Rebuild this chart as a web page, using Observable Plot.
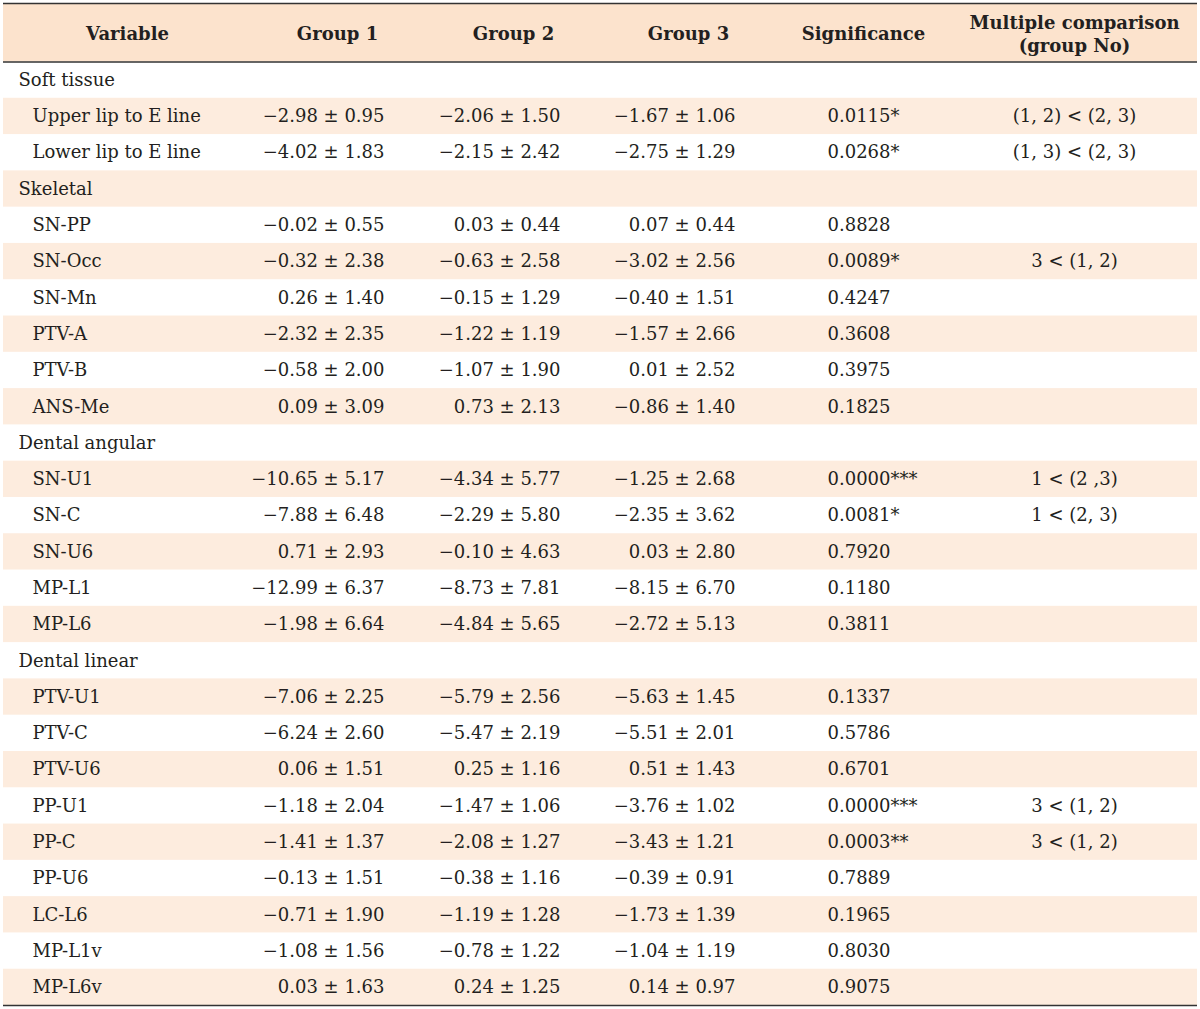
<!DOCTYPE html>
<html><head><meta charset="utf-8">
<script src="https://cdn.jsdelivr.net/npm/d3@7"></script>
<script src="https://cdn.jsdelivr.net/npm/@observablehq/plot@0.6"></script>
<style>body{margin:0;background:#fff} svg{display:block}</style>
</head><body><div id="chart"></div>
<script>
// ---- data ----
const sections = ["Soft tissue", "Skeletal", "Dental angular", "Dental linear"];
const variables = ["Upper lip to E line","Lower lip to E line",
  "SN-PP","SN-Occ","SN-Mn","PTV-A","PTV-B","ANS-Me",
  "SN-U1","SN-C","SN-U6","MP-L1","MP-L6",
  "PTV-U1","PTV-C","PTV-U6","PP-U1","PP-C","PP-U6","LC-L6","MP-L1v","MP-L6v"];
const sectionOf = [0,0, 1,1,1,1,1,1, 2,2,2,2,2, 3,3,3,3,3,3,3,3,3];
const g1Mean = [-2.98,-4.02, -0.02,-0.32,0.26,-2.32,-0.58,0.09, -10.65,-7.88,0.71,-12.99,-1.98, -7.06,-6.24,0.06,-1.18,-1.41,-0.13,-0.71,-1.08,0.03];
const g1SD   = [0.95,1.83, 0.55,2.38,1.40,2.35,2.00,3.09, 5.17,6.48,2.93,6.37,6.64, 2.25,2.60,1.51,2.04,1.37,1.51,1.90,1.56,1.63];
const g2Mean = [-2.06,-2.15, 0.03,-0.63,-0.15,-1.22,-1.07,0.73, -4.34,-2.29,-0.10,-8.73,-4.84, -5.79,-5.47,0.25,-1.47,-2.08,-0.38,-1.19,-0.78,0.24];
const g2SD   = [1.50,2.42, 0.44,2.58,1.29,1.19,1.90,2.13, 5.77,5.80,4.63,7.81,5.65, 2.56,2.19,1.16,1.06,1.27,1.16,1.28,1.22,1.25];
const g3Mean = [-1.67,-2.75, 0.07,-3.02,-0.40,-1.57,0.01,-0.86, -1.25,-2.35,0.03,-8.15,-2.72, -5.63,-5.51,0.51,-3.76,-3.43,-0.39,-1.73,-1.04,0.14];
const g3SD   = [1.06,1.29, 0.44,2.56,1.51,2.66,2.52,1.40, 2.68,3.62,2.80,6.70,5.13, 1.45,2.01,1.43,1.02,1.21,0.91,1.39,1.19,0.97];
const pValue = [0.0115,0.0268, 0.8828,0.0089,0.4247,0.3608,0.3975,0.1825, 0.0000,0.0081,0.7920,0.1180,0.3811, 0.1337,0.5786,0.6701,0.0000,0.0003,0.7889,0.1965,0.8030,0.9075];
const pStars = ["*","*", "","*","","","","", "***","*","","","", "","","","***","**","","","",""];
const multiComp = ["(1, 2) < (2, 3)","(1, 3) < (2, 3)", "","3 < (1, 2)","","","","", "1 < (2 ,3)","1 < (2, 3)","","","", "","","","3 < (1, 2)","3 < (1, 2)","","","",""];
const headers = ["Variable","Group 1","Group 2","Group 3","Significance","Multiple comparison\n(group No)"];

// ---- layout / style ----
const W = 1200, Hpx = 1009;
const headerUnits = 1.612;          // header height in row units
const tableLeft = 3, tableRight = 1197;
const colAnchor = {g1: 384, g2: 560, g3: 735, sig: 827, mc: 1074};
const headerX = [127, 337, 513, 688, 863, 1074];
const sectionX = 18, itemX = 32;
const font = "'DejaVu Serif', serif";
const peachHead = "#fce3cd", peachRow = "#fdecde", lineColor = "#333";

const fmt = (m, s) => (m < 0 ? "\u2212" : "") + Math.abs(m).toFixed(2) + " \u00b1 " + s.toFixed(2);

// build rows
const rows = [];
sections.forEach((sec, si) => {
  rows.push({type: "section", label: sec});
  variables.forEach((v, vi) => {
    if (sectionOf[vi] !== si) return;
    rows.push({type: "item", label: v,
      g1: fmt(g1Mean[vi], g1SD[vi]), g2: fmt(g2Mean[vi], g2SD[vi]), g3: fmt(g3Mean[vi], g3SD[vi]),
      sig: pValue[vi].toFixed(4) + pStars[vi], mc: multiComp[vi]});
  });
});
rows.forEach((r, i) => r.i = i);
const nRows = rows.length;
const items = rows.filter(r => r.type === "item");
const secRows = rows.filter(r => r.type === "section");
const shaded = rows.filter(r => r.i % 2 === 1);
const headerData = headers.map((h, k) => ({h, x: headerX[k]}));

const txt = {fontFamily: font, fontSize: 18, fill: "#231f20"};

const plot = Plot.plot({
  width: W, height: Hpx, margin: 0,
  x: {domain: [0, W], range: [0, W], axis: null},
  y: {domain: [-headerUnits, nRows], range: [3, 1005], axis: null},
  style: {background: "#fff"},
  marks: [
    Plot.rect([0], {x1: () => tableLeft, x2: () => tableRight, y1: () => -headerUnits, y2: () => 0, fill: peachHead}),
    Plot.rect(shaded, {x1: () => tableLeft, x2: () => tableRight, y1: d => d.i, y2: d => d.i + 1, fill: peachRow}),
    Plot.ruleY([-headerUnits, 0, nRows], {x1: tableLeft, x2: tableRight, stroke: lineColor, strokeWidth: 1.6}),
    Plot.text(headerData, {x: "x", y: () => -headerUnits / 2, text: "h", ...txt, fontWeight: "bold", lineHeight: 1.28}),
    Plot.text(secRows, {x: () => sectionX, y: d => d.i + 0.5, text: "label", textAnchor: "start", ...txt}),
    Plot.text(items, {x: () => itemX, y: d => d.i + 0.5, text: "label", textAnchor: "start", ...txt}),
    Plot.text(items, {x: () => colAnchor.g1, y: d => d.i + 0.5, text: "g1", textAnchor: "end", ...txt}),
    Plot.text(items, {x: () => colAnchor.g2, y: d => d.i + 0.5, text: "g2", textAnchor: "end", ...txt}),
    Plot.text(items, {x: () => colAnchor.g3, y: d => d.i + 0.5, text: "g3", textAnchor: "end", ...txt}),
    Plot.text(items, {x: () => colAnchor.sig, y: d => d.i + 0.5, text: "sig", textAnchor: "start", ...txt}),
    Plot.text(items, {x: () => colAnchor.mc, y: d => d.i + 0.5, text: "mc", textAnchor: "middle", ...txt})
  ]
});
document.getElementById("chart").append(plot);
</script>
</body></html>
